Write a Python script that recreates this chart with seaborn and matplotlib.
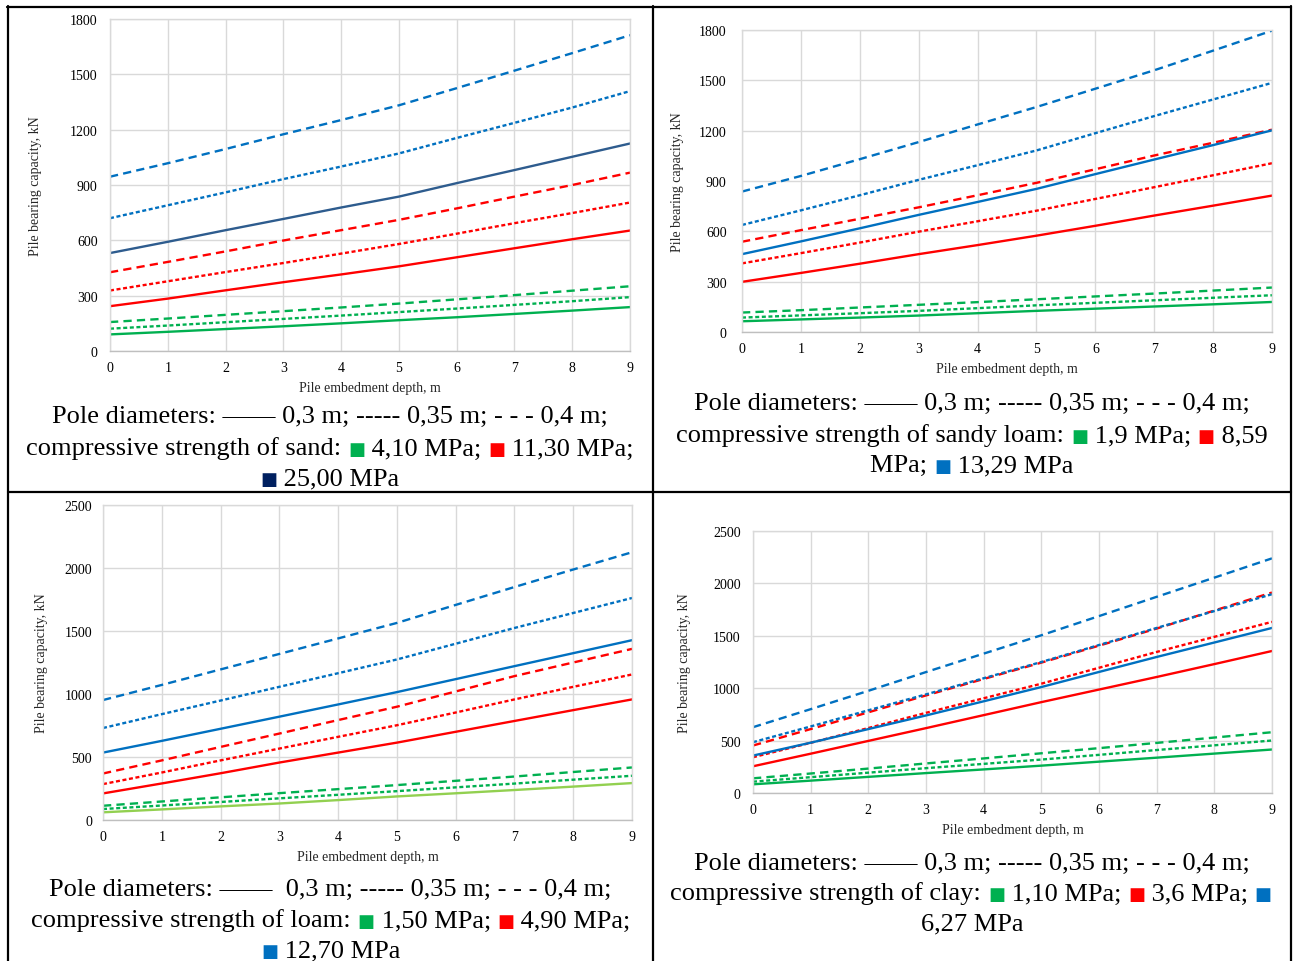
import numpy as np
import pandas as pd
import matplotlib
matplotlib.use("Agg")
import matplotlib.pyplot as plt
import seaborn as sns
from matplotlib.lines import Line2D
from matplotlib.offsetbox import TextArea, HPacker, AnnotationBbox

# ---------------- data ----------------
depth = [0, 1, 2, 3, 4, 5, 6, 7, 8, 9]
diameters = ["0,3 m", "0,35 m", "0,4 m"]

# Sand
sand_low_030 = [90, 104, 119, 134, 150, 167, 183, 201, 219, 238]
sand_low_035 = [121, 138, 156, 174, 192, 211, 230, 250, 270, 292]
sand_low_040 = [157, 176, 196, 216, 236, 257, 280, 303, 327, 351]
sand_mid_030 = [243, 284, 329, 373, 415, 459, 508, 557, 606, 653]
sand_mid_035 = [328, 378, 428, 477, 528, 580, 636, 693, 748, 805]
sand_mid_040 = [427, 483, 540, 599, 655, 711, 773, 837, 900, 967]
sand_high_030 = [531, 592, 655, 716, 778, 837, 910, 981, 1053, 1125]
sand_high_035 = [720, 790, 860, 932, 1000, 1071, 1155, 1237, 1320, 1409]
sand_high_040 = [945, 1018, 1095, 1175, 1252, 1332, 1425, 1520, 1615, 1712]

# Sandy loam
sloam_low_030 = [64, 75, 86, 98, 112, 126, 139, 152, 165, 179]
sloam_low_035 = [86, 99, 112, 126, 142, 159, 174, 189, 204, 219]
sloam_low_040 = [116, 130, 146, 162, 178, 195, 212, 229, 247, 265]
sloam_mid_030 = [299, 352, 407, 464, 518, 574, 633, 694, 753, 813]
sloam_mid_035 = [409, 470, 533, 598, 660, 723, 793, 863, 934, 1006]
sloam_mid_040 = [538, 607, 675, 743, 815, 889, 970, 1052, 1128, 1206]
sloam_high_030 = [464, 540, 618, 698, 775, 853, 941, 1028, 1114, 1202]
sloam_high_035 = [638, 725, 815, 907, 994, 1082, 1185, 1287, 1386, 1485]
sloam_high_040 = [837, 930, 1030, 1132, 1237, 1341, 1450, 1560, 1677, 1796]

# Loam
loam_low_030 = [61, 84, 108, 131, 158, 187, 212, 238, 265, 293]
loam_low_035 = [87, 115, 143, 172, 200, 229, 259, 289, 320, 351]
loam_low_040 = [113, 147, 180, 213, 245, 277, 311, 345, 381, 417]
loam_mid_030 = [211, 290, 371, 456, 535, 614, 700, 786, 872, 957]
loam_mid_035 = [285, 377, 473, 567, 660, 752, 853, 957, 1057, 1155]
loam_mid_040 = [369, 473, 580, 686, 793, 899, 1020, 1142, 1250, 1358]
loam_high_030 = [535, 628, 724, 820, 917, 1015, 1118, 1221, 1324, 1427]
loam_high_035 = [730, 840, 948, 1057, 1165, 1274, 1399, 1524, 1643, 1762]
loam_high_040 = [952, 1072, 1195, 1318, 1441, 1564, 1707, 1849, 1988, 2125]

# Clay
clay_low_030 = [83, 118, 154, 190, 225, 261, 299, 337, 376, 415]
clay_low_035 = [108, 151, 194, 237, 278, 319, 364, 410, 455, 501]
clay_low_040 = [140, 186, 233, 282, 330, 379, 428, 478, 529, 580]
clay_mid_030 = [255, 375, 497, 619, 743, 867, 987, 1107, 1230, 1355]
clay_mid_035 = [341, 479, 620, 765, 904, 1043, 1195, 1346, 1490, 1633]
clay_mid_040 = [453, 610, 770, 931, 1088, 1244, 1406, 1569, 1741, 1913]
clay_high_030 = [357, 480, 610, 740, 875, 1011, 1155, 1298, 1436, 1575]
clay_high_035 = [485, 635, 789, 941, 1095, 1250, 1412, 1575, 1736, 1897]
clay_high_040 = [628, 800, 975, 1154, 1330, 1505, 1688, 1872, 2055, 2239]

# ---------------- styling ----------------
GREEN = "#00B050"
RED = "#FF0000"
BLUE = "#0070C0"
NAVY_LINE = "#2E5C8E"
NAVY_SQ = "#002060"
LIGHT_GREEN = "#92D050"

sns.set_theme(style="whitegrid")
plt.rcParams["font.family"] = ["Liberation Serif", "DejaVu Sans"]
plt.rcParams["axes.grid"] = True

fig = plt.figure(figsize=(12.98, 9.62), dpi=100)

W, H = 1298.0, 962.0


def ax_rect(l, r, t, b):
    return [l / W, 1 - b / H, (r - l) / W, (b - t) / H]


dash_map = {"0,3 m": "", "0,35 m": (1.7, 1.1), "0,4 m": (3.5, 2.2)}


def make_panel(rect, series, colors, ymax, ystep, ypad, ylabpad):
    ax = fig.add_axes(rect)
    rows = []
    for (name, diam, vals) in series:
        for x, v in zip(depth, vals):
            rows.append({"depth": x, "capacity": v, "series": name, "diameter": diam})
    df = pd.DataFrame(rows)
    sns.lineplot(data=df, x="depth", y="capacity", hue="series", style="diameter",
                 palette=colors, dashes=dash_map, linewidth=1.7, legend=False,
                 ax=ax, sort=False)
    ax.set_xlim(0, 9)
    ax.set_ylim(0, ymax)
    ax.set_xticks(depth)
    ax.set_yticks(np.arange(0, ymax + 1, ystep))
    ax.grid(True, color="#D9D9D9", linewidth=1.0)
    for s in ax.spines.values():
        s.set_color("#D9D9D9")
        s.set_linewidth(1.0)
    ax.spines["bottom"].set_color("#BFBFBF")
    ax.tick_params(axis="both", length=0, labelsize=10, colors="#000000")
    ax.tick_params(axis="x", pad=7)
    ax.tick_params(axis="y", pad=ypad)
    ax.set_xlabel("Pile embedment depth, m", fontsize=10, labelpad=5)
    ax.set_ylabel("Pile bearing capacity, kN", fontsize=10, labelpad=ylabpad)
    return ax


def series_set(prefix_vals):
    low, mid, high = prefix_vals
    return [("low030", "0,3 m", low[0]), ("low035", "0,35 m", low[1]), ("low040", "0,4 m", low[2]),
            ("mid030", "0,3 m", mid[0]), ("mid035", "0,35 m", mid[1]), ("mid040", "0,4 m", mid[2]),
            ("high030", "0,3 m", high[0]), ("high035", "0,35 m", high[1]), ("high040", "0,4 m", high[2])]


def pal(low, mid, high, low_solid=None, high_solid=None):
    return {"low030": low_solid or low, "low035": low, "low040": low,
            "mid030": mid, "mid035": mid, "mid040": mid,
            "high030": high_solid or high, "high035": high, "high040": high}


# Panel 1: sand
make_panel(ax_rect(110, 630, 20, 352),
           series_set([(sand_low_030, sand_low_035, sand_low_040),
                       (sand_mid_030, sand_mid_035, sand_mid_040),
                       (sand_high_030, sand_high_035, sand_high_040)]),
           pal(GREEN, RED, BLUE, high_solid=NAVY_LINE), 1800, 300, 9, 20)
# Panel 2: sandy loam
make_panel(ax_rect(742, 1272, 31, 333),
           series_set([(sloam_low_030, sloam_low_035, sloam_low_040),
                       (sloam_mid_030, sloam_mid_035, sloam_mid_040),
                       (sloam_high_030, sloam_high_035, sloam_high_040)]),
           pal(GREEN, RED, BLUE), 1800, 300, 11, 11)
# Panel 3: loam
make_panel(ax_rect(103, 632, 506, 821),
           series_set([(loam_low_030, loam_low_035, loam_low_040),
                       (loam_mid_030, loam_mid_035, loam_mid_040),
                       (loam_high_030, loam_high_035, loam_high_040)]),
           pal(GREEN, RED, BLUE, low_solid=LIGHT_GREEN), 2500, 500, 8, 12)
# Panel 4: clay
make_panel(ax_rect(753, 1272, 532, 794),
           series_set([(clay_low_030, clay_low_035, clay_low_040),
                       (clay_mid_030, clay_mid_035, clay_mid_040),
                       (clay_high_030, clay_high_035, clay_high_040)]),
           pal(GREEN, RED, BLUE), 2500, 500, 9, 16)

# ---------------- captions ----------------
CAP_FS = 19
SQ_FS = 13


def t(s, color="black"):
    return TextArea(s, textprops=dict(color=color, fontsize=CAP_FS,
                                      family=["Liberation Serif", "DejaVu Sans"]))


def sq(color):
    return TextArea("\u25A0", textprops=dict(color=color, fontsize=SQ_FS, family="DejaVu Sans"))


def caption_line(parts, cx, cy):
    box = HPacker(children=parts, align="baseline", pad=0, sep=0)
    ab = AnnotationBbox(box, (cx / W, 1 - cy / H), xycoords="figure fraction",
                        frameon=False, box_alignment=(0.5, 0.5), pad=0)
    fig.add_artist(ab)


LINE1 = "Pole diameters: \u2014\u2014 0,3 m; ----- 0,35 m; - - - 0,4 m;"
LINE1b = "Pole diameters: \u2014\u2014  0,3 m; ----- 0,35 m; - - - 0,4 m;"

# panel 1
caption_line([t(LINE1)], 330, 417)
caption_line([t("compressive strength of sand: "), sq(GREEN), t(" 4,10 MPa; "), sq(RED),
              t(" 11,30 MPa;")], 330, 449)
caption_line([sq(NAVY_SQ), t(" 25,00 MPa")], 330, 479)
# panel 2
caption_line([t(LINE1)], 972, 404)
caption_line([t("compressive strength of sandy loam: "), sq(GREEN), t(" 1,9 MPa; "), sq(RED),
              t(" 8,59")], 972, 436)
caption_line([t("MPa; "), sq(BLUE), t(" 13,29 MPa")], 972, 466)
# panel 3
caption_line([t(LINE1b)], 330, 890)
caption_line([t("compressive strength of loam: "), sq(GREEN), t(" 1,50 MPa; "), sq(RED),
              t(" 4,90 MPa;")], 331, 921)
caption_line([sq(BLUE), t(" 12,70 MPa")], 331, 951)
# panel 4
caption_line([t(LINE1)], 972, 864)
caption_line([t("compressive strength of clay: "), sq(GREEN), t(" 1,10 MPa; "), sq(RED),
              t(" 3,6 MPa; "), sq(BLUE)], 971, 894)
caption_line([t("6,27 MPa")], 972, 924)

# ---------------- table borders ----------------
def fline(x0, y0, x1, y1):
    fig.add_artist(Line2D([x0 / W, x1 / W], [1 - y0 / H, 1 - y1 / H],
                          transform=fig.transFigure, color="black", linewidth=1.6))


fline(7, 8, 1291, 8)
fline(8, 7, 8, 962)
fline(1291, 7, 1291, 962)
fline(653, 7, 653, 962)
fline(8, 493, 1291, 493)

fig.savefig("out.png", dpi=100)
